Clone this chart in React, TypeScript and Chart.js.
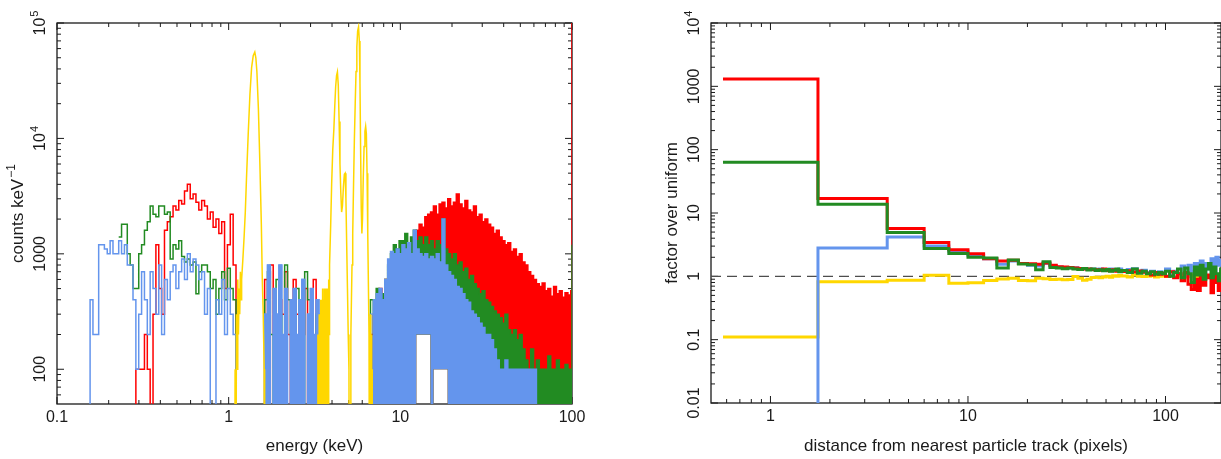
import { useEffect, useRef } from 'react';
import { Chart, registerables } from 'chart.js';

Chart.register(...registerables);

// ---------------- colours / fonts ----------------
const RED = '#ff0000';
const GREEN = '#228b22';
const BLUE = '#6495ed';
const GOLD = '#ffd700';
const INK = '#1a1a1a';
const FONT = '"Liberation Sans", Arial, Helvetica, sans-serif';

// ---------------- left panel: spectra (counts keV^-1) ----------------
// log-spaced bins: edge(i) = 0.15 keV * 10^(i/60)
const GRID_START_KEV = 0.15;
const BINS_PER_DECADE = 60;
// bins 62..82 (1.6 - 3.6 keV) are densely populated for the blue series
const MID_FIRST_BIN = 62;
const MID_LAST_BIN = 82;

// bins 0..99  (0.15 - 6.9 keV)
const blueLow = [
  0, 400, 200, 200, 1200, 1200, 1100, 1000, 1300, 1000,
  1000, 1300, 1000, 1200, 800, 800, 400, 100, 300, 700,
  400, 200, 700, 500, 300, 800, 200, 600, 400, 700,
  800, 500, 700, 900, 600, 1000, 700, 900, 800, 600,
  700, 300, 500, 0, 0, 400, 300, 600, 200, 500,
  300, 200, 0, 0, 0, 0, 0, 0, 0, 0,
  0, 0, 300, 800, 0, 500, 300, 800, 200, 500,
  0, 400, 500, 200, 400, 600, 0, 300, 500, 200,
  400, 300, 0, 0, 0, 0, 0, 0, 0, 0,
  0, 0, 0, 0, 0, 0, 0, 0, 0, 300,
];
const redLow = [
  0, 0, 0, 0, 0, 0, 0, 0, 0, 0,
  0, 0, 0, 0, 0, 0, 0, 100, 100, 100,
  200, 100, 0, 300, 1200, 500, 300, 1600, 1900, 2100,
  2600, 2400, 2900, 2700, 3500, 4000, 3000, 3300, 2800, 2400,
  2900, 2600, 2000, 2300, 1700, 2000, 1500, 1900, 500, 1200,
  2200, 800, 0, 0, 0, 0, 0, 0, 0, 0,
  0, 0, 600, 0, 800, 200, 0, 400, 300, 700,
  200, 0, 600, 300, 0, 200, 500, 0, 300, 600,
  0, 200, 100, 0, 0, 0, 0, 0, 0, 0,
  0, 0, 0, 0, 0, 0, 0, 0, 0, 200,
];
const greenLow = [
  0, 0, 0, 0, 0, 0, 0, 0, 0, 0,
  0, 1400, 1800, 1800, 1000, 800, 500, 500, 1000, 1200,
  1600, 1900, 2600, 2200, 2100, 2600, 2600, 2200, 2300, 900,
  1200, 1100, 1300, 950, 850, 900, 800, 850, 450, 700,
  800, 800, 700, 500, 600, 300, 500, 700, 400, 750,
  500, 400, 0, 0, 0, 0, 0, 0, 0, 0,
  0, 0, 400, 700, 200, 0, 600, 300, 0, 800,
  400, 200, 0, 500, 300, 0, 700, 400, 200, 0,
  300, 0, 200, 0, 0, 0, 0, 0, 0, 0,
  0, 0, 0, 0, 0, 0, 0, 0, 0, 400,
];

// bins 100..169 (6.9 - 100 keV), densely populated: upper envelopes
const redHigh = [
  300, 0, 500, 200, 600, 300, 0, 400, 700, 300,
  500, 800, 400, 600, 1200, 1600, 1800, 1700, 2100, 2200,
  2300, 2600, 2200, 2700, 2800, 2500, 3000, 2600, 2800, 3300,
  2700, 2500, 2900, 2400, 2300, 2600, 2100, 2200, 1900, 2000,
  1800, 1700, 1500, 1600, 1400, 1300, 1200, 1250, 1050, 1100,
  950, 1000, 850, 800, 700, 650, 600, 550, 520, 560,
  480, 500, 430, 520, 450, 480, 420, 460, 440, 480,
];
const greenHigh = [
  400, 500, 350, 450, 600, 800, 1000, 1200, 1100, 1300,
  1300, 1500, 1200, 1400, 1600, 1300, 1400, 1200, 1400, 1200,
  1300, 1100, 1300, 1200, 2000, 1100, 1000, 900, 1000, 800,
  850, 700, 750, 600, 650, 550, 500, 450, 480, 400,
  380, 350, 320, 300, 280, 250, 300, 220, 200, 220,
  180, 200, 150, 120, 100, 150, 100, 120, 100, 100,
  100, 130, 100, 100, 120, 100, 100, 110, 100, 100,
];
const blueHigh = [
  400, 450, 500, 400, 600, 900, 1050, 1000, 1100, 1000,
  1200, 1100, 1250, 1000, 1600, 1100, 1000, 950, 1000, 900,
  950, 900, 1000, 850, 2000, 800, 700, 650, 600, 520,
  500, 450, 400, 380, 320, 300, 280, 250, 230, 200,
  200, 180, 150, 120, 100, 100, 120, 100, 100, 100,
  100, 100, 100, 100, 100, 100, 100, 0, 0, 0,
  0, 0, 0, 0, 0, 0, 0, 0, 0, 0,
];
// lowest level reached by any series in bins 100..169 (0 = some bins were empty)
const denseFloor = [
  0, 0, 0, 0, 0, 0, 0, 0, 0, 0,
  0, 0, 0, 0, 0, 200, 200, 200, 200, 200,
  0, 100, 100, 100, 100, 100, 0, 0, 0, 0,
  0, 0, 0, 0, 0, 0, 0, 0, 0, 0,
  0, 0, 0, 0, 0, 0, 0, 0, 0, 0,
  0, 0, 0, 0, 0, 0, 0, 0, 0, 0,
  0, 0, 0, 0, 0, 0, 0, 0, 0, 0,
];
const redOverflowAt100 = 1e7;
const greenLastAt100 = 1200;

// calibration-source spectrum: [energy keV, counts keV^-1]
const goldSpectrum: [number, number][] = [
  [1.08, 0], [1.09, 100], [1.1, 0], [1.11, 300], [1.12, 100], [1.13, 600], [1.14, 200], [1.15, 500],
  [1.16, 300], [1.17, 700], [1.18, 400], [1.19, 600], [1.21, 900], [1.23, 1400], [1.25, 2300],
  [1.27, 4500], [1.3, 11000], [1.33, 24000], [1.36, 41000], [1.39, 52000], [1.42, 56000],
  [1.44, 50000], [1.46, 38000], [1.49, 18000], [1.52, 6000], [1.55, 1800], [1.57, 600],
  [1.59, 300], [1.61, 100], [1.62, 0],
  [3.3, 0], [3.31, 200], [3.32, 0], [3.34, 100], [3.35, 0], [3.37, 300], [3.38, 0], [3.4, 200],
  [3.41, 0], [3.42, 300], [3.43, 0], [3.44, 400], [3.45, 0], [3.46, 300], [3.47, 0], [3.48, 400],
  [3.49, 100], [3.5, 300], [3.51, 0], [3.52, 500], [3.53, 0], [3.54, 300], [3.55, 0], [3.56, 400],
  [3.57, 100], [3.58, 300], [3.59, 0], [3.6, 500], [3.61, 0], [3.62, 400], [3.63, 0], [3.64, 300],
  [3.65, 100], [3.66, 500], [3.67, 0], [3.68, 300], [3.69, 0], [3.7, 400], [3.71, 0], [3.72, 300],
  [3.73, 100], [3.74, 500], [3.75, 0], [3.76, 400], [3.77, 0], [3.78, 300], [3.79, 0], [3.8, 500],
  [3.81, 100], [3.82, 400], [3.83, 0], [3.84, 600], [3.85, 200], [3.86, 500], [3.87, 300],
  [3.88, 800], [3.93, 1800], [3.98, 4000], [4.04, 8000], [4.1, 12000], [4.15, 19000], [4.2, 28000],
  [4.25, 35000], [4.3, 37700], [4.35, 29000], [4.4, 14000], [4.45, 6000], [4.5, 3400],
  [4.55, 2300], [4.6, 2600], [4.66, 3800], [4.72, 4900], [4.77, 5000], [4.82, 3000],
  [4.87, 1200], [4.92, 500], [4.97, 200], [5.02, 100], [5.05, 0],
  [5.12, 0], [5.15, 200], [5.19, 400], [5.23, 800], [5.28, 1500], [5.34, 4000], [5.4, 10000],
  [5.46, 20000], [5.52, 38000], [5.58, 62000], [5.64, 85000], [5.71, 92500], [5.77, 70000],
  [5.82, 30000], [5.87, 8000], [5.92, 2500], [5.97, 1500], [6.02, 2000], [6.08, 4500],
  [6.15, 8500], [6.22, 11500], [6.28, 12700], [6.34, 11000], [6.4, 5000], [6.46, 1500],
  [6.52, 500], [6.57, 200], [6.61, 100], [6.64, 0], [6.7, 300], [6.72, 0], [6.77, 200],
  [6.79, 0], [6.84, 100], [6.86, 0],
];

const energyTicks = [0.1, 1, 10, 100];
const energyTickLabels = ['0.1', '1', '10', '100'];
const countTicks = [100, 1000, 10000, 100000];
const countTickLabels: [string, string][] = [['100', ''], ['1000', ''], ['10', '4'], ['10', '5']];

// ---------------- right panel: factor over uniform ----------------
const distEdges = [
  0.575, 1.74, 3.9,
  6, 8, 10, 12, 14, 16, 18, 20, 22, 24, 26, 28, 30, 32, 34, 36, 38, 40,
  42, 44, 46, 48, 50, 52, 54, 56, 58, 60,
  64, 68, 72, 76, 80, 84, 88, 92, 96, 100,
  105, 110, 115, 120, 125, 130, 135, 140, 145, 150, 155, 160, 165, 170, 175, 180, 185, 190, 195,
];
const redFactor = [
  1310, 16.9, 5.69, 3.42, 2.63, 2.27, 1.9, 1.75, 1.8, 1.6,
  1.58, 1.55, 1.62, 1.5, 1.42, 1.4, 1.38, 1.36, 1.33, 1.3,
  1.31, 1.28, 1.27, 1.25, 1.3, 1.24, 1.22, 1.27, 1.2, 1.24,
  1.19, 1.22, 1.17, 1.21, 1.16, 1.12, 1.05, 1.15, 1.08, 1.12,
  1.0, 1.18, 0.95, 1.1, 0.85, 1.15, 0.75, 0.62, 0.9, 0.6,
  1.1, 0.72, 0.95, 1.05, 0.55, 1.0, 0.8, 0.6, 0.85,
];
const greenFactor = [
  63.5, 13.8, 4.92, 2.75, 2.3, 2.0, 1.95, 1.36, 1.81, 1.56,
  1.52, 1.27, 1.7, 1.38, 1.36, 1.32, 1.35, 1.3, 1.28, 1.33,
  1.26, 1.3, 1.24, 1.27, 1.22, 1.28, 1.2, 1.25, 1.3, 1.18,
  1.24, 1.15, 1.3, 1.12, 1.2, 1.1, 1.18, 1.08, 1.15, 1.1,
  1.2, 1.0, 1.15, 1.3, 0.95, 1.35, 1.1, 0.8, 1.4, 1.05,
  1.5, 0.9, 1.3, 1.6, 0.95, 1.4, 1.1, 0.85, 1.3,
];
const blueFactor = [
  0, 2.8, 4.16, 3.0, 2.5, 2.15, 1.9, 1.55, 1.75, 1.6,
  1.5, 1.45, 1.6, 1.45, 1.4, 1.38, 1.35, 1.37, 1.3, 1.32,
  1.28, 1.3, 1.26, 1.3, 1.25, 1.28, 1.3, 1.22, 1.26, 1.3,
  1.2, 1.28, 1.32, 1.18, 1.25, 1.15, 1.2, 1.12, 1.18, 1.1,
  1.3, 1.05, 1.2, 1.1, 1.45, 1.0, 1.5, 1.2, 1.6, 1.3,
  1.75, 1.1, 1.6, 1.3, 1.9, 1.2, 2.0, 1.5, 1.8,
];
const goldFactor = [
  0.11, 0.82, 0.87, 1.04, 0.78, 0.79, 0.86, 0.91, 0.93, 0.86,
  0.85, 0.93, 0.92, 0.89, 0.9, 0.88, 0.89, 0.99, 0.93, 0.87,
  0.9, 0.96, 0.97, 0.95, 0.98, 1.0, 0.97, 1.02, 1.0, 1.03,
  1.01, 0.98, 1.05, 1.0, 0.99, 1.0, 1.02, 0.98, 1.0, 1.01,
  0.99, 1.03, 0.97, 1.0, 1.02, 0.98, 1.0, 1.04, 0.96, 1.0,
  1.02, 0.97, 1.0, 1.03, 0.98, 1.0, 1.02, 0.99, 1.0,
];
const uniformLevel = 1;

const distTicks = [1, 10, 100];
const distTickLabels = ['1', '10', '100'];
const factorTicks = [0.01, 0.1, 1, 10, 100, 1000, 10000];
const factorTickLabels: [string, string][] = [
  ['0.01', ''], ['0.1', ''], ['1', ''], ['10', ''], ['100', ''], ['1000', ''], ['10', '4'],
];

// ---------------- helpers ----------------
function binEdge(i: number) {
  return GRID_START_KEV * Math.pow(10, i / BINS_PER_DECADE);
}

// histogram outline; zero bins drop below the log axis
function stepPoints(edges: number[], values: number[], floor: number, rise: boolean, skipLeadingZeros = false) {
  const pts: { x: number; y: number }[] = [];
  const v = (y: number) => (y > 0 ? y : floor);
  let first = 0;
  if (skipLeadingZeros) while (first < values.length && !(values[first] > 0)) first++;
  if (rise) pts.push({ x: edges[first], y: floor });
  for (let k = first; k < values.length; k++) pts.push({ x: edges[k], y: v(values[k]) });
  pts.push({ x: edges[values.length], y: v(values[values.length - 1]) });
  return pts;
}

function minorValues(min: number, max: number) {
  const out: number[] = [];
  for (let d = Math.floor(Math.log10(min)) - 1; d <= Math.ceil(Math.log10(max)); d++) {
    for (let m = 2; m <= 9; m++) {
      const v = m * Math.pow(10, d);
      if (v > min * 1.001 && v < max * 0.999) out.push(v);
    }
  }
  return out;
}

function drawSup(ctx: CanvasRenderingContext2D, base: string, exp: string, cx: number, cy: number, rotated: boolean, size: number) {
  ctx.save();
  ctx.translate(cx, cy);
  if (rotated) ctx.rotate(-Math.PI / 2);
  ctx.textAlign = 'left';
  ctx.textBaseline = 'middle';
  ctx.font = `${size}px ${FONT}`;
  const wb = ctx.measureText(base).width;
  const es = Math.round(size * 0.68);
  ctx.font = `${es}px ${FONT}`;
  const we = exp ? ctx.measureText(exp).width + 1 : 0;
  const x0 = -(wb + we) / 2;
  ctx.font = `${size}px ${FONT}`;
  ctx.fillText(base, x0, 0);
  if (exp) {
    ctx.font = `${es}px ${FONT}`;
    ctx.fillText(exp, x0 + wb + 1, -size * 0.36);
  }
  ctx.restore();
}

type AxisSpec = {
  xMajor: number[];
  xLabels: string[];
  yMajor: number[];
  yLabels: [string, string][];
  xTitle: string;
  yTitle: [string, string];
};

function axesPlugin(spec: AxisSpec) {
  return {
    id: 'axesFrame',
    beforeDatasetsDraw(chart: any) {
      const { ctx, chartArea: a } = chart;
      const xs = chart.scales.x;
      const ys = chart.scales.y;
      ctx.save();
      ctx.strokeStyle = INK;
      ctx.fillStyle = INK;
      ctx.lineWidth = 1.3;
      ctx.strokeRect(a.left, a.top, a.right - a.left, a.bottom - a.top);
      ctx.lineWidth = 1;
      const seg = (x1: number, y1: number, x2: number, y2: number) => {
        ctx.beginPath();
        ctx.moveTo(x1, y1);
        ctx.lineTo(x2, y2);
        ctx.stroke();
      };
      const MAJ = 7;
      const MIN = 4;
      const xTick = (v: number, len: number) => {
        const p = xs.getPixelForValue(v);
        seg(p, a.bottom, p, a.bottom - len);
        seg(p, a.top, p, a.top + len);
      };
      const yTick = (v: number, len: number) => {
        const p = ys.getPixelForValue(v);
        seg(a.left, p, a.left + len, p);
        seg(a.right, p, a.right - len, p);
      };
      spec.xMajor.forEach((v) => xTick(v, MAJ));
      minorValues(xs.min, xs.max).forEach((v) => xTick(v, MIN));
      spec.yMajor.forEach((v) => yTick(v, MAJ));
      minorValues(ys.min, ys.max).forEach((v) => yTick(v, MIN));

      // tick labels
      spec.xMajor.forEach((v, k) => {
        drawSup(ctx, spec.xLabels[k], '', xs.getPixelForValue(v), a.bottom + 14, false, 16);
      });
      spec.yMajor.forEach((v, k) => {
        const [b, e] = spec.yLabels[k];
        drawSup(ctx, b, e, a.left - 16, ys.getPixelForValue(v), true, 16);
      });
      // titles
      drawSup(ctx, spec.xTitle, '', (a.left + a.right) / 2, 446, false, 17);
      drawSup(ctx, spec.yTitle[0], spec.yTitle[1], a.left - 39, (a.top + a.bottom) / 2, true, 17);
      ctx.restore();
    },
  };
}

const commonOptions = {
  animation: false as const,
  responsive: false,
  events: [] as any[],
  plugins: { legend: { display: false }, tooltip: { enabled: false } },
  elements: { point: { radius: 0 }, line: { tension: 0 } },
};

function leftConfig(): any {
  const FLOOR = 1;
  const lowEdges = Array.from({ length: blueLow.length + 1 }, (_, i) => binEdge(i));
  const midEdges = lowEdges.slice(MID_FIRST_BIN, MID_LAST_BIN + 2);
  const blueMid = blueLow.slice(MID_FIRST_BIN, MID_LAST_BIN + 1);
  const highEdges = [...Array.from({ length: redHigh.length }, (_, k) => binEdge(blueLow.length + k)), 100];
  const floorLine = stepPoints(highEdges, denseFloor, FLOOR, true);
  const line = (label: string, color: string, data: any[], stepped: boolean) => ({
    label, data, borderColor: color, backgroundColor: color, borderWidth: 1.5,
    stepped, fill: false, pointRadius: 0,
  });
  const area = (label: string, color: string, data: any[], fill: any, width = 1.5) => ({
    label, data, borderColor: color, backgroundColor: color, borderWidth: width,
    stepped: true, fill, pointRadius: 0,
  });
  const lower = (label: string) => ({
    label, data: floorLine, borderColor: 'rgba(0,0,0,0)', backgroundColor: 'rgba(0,0,0,0)',
    borderWidth: 1, stepped: true, fill: false, pointRadius: 0,
  });
  const datasets = [
    line('gold', GOLD, goldSpectrum.map(([x, y]) => ({ x, y: y > 0 ? y : FLOOR })), false),
    line('blue', BLUE, stepPoints(lowEdges, blueLow, FLOOR, true), true),
    area('blue 1.6-3.6 keV', BLUE, stepPoints(midEdges, blueMid, FLOOR, true), 'start', 1.2),
    area('blue dense', BLUE, stepPoints(highEdges, blueHigh, FLOOR, true), '+1'),
    lower('blue dense floor'),
    line('green', GREEN, stepPoints(lowEdges, greenLow, FLOOR, false, true), true),
    area('green dense', GREEN, [...stepPoints(highEdges, greenHigh, FLOOR, true), { x: 100, y: greenLastAt100 }], '+1'),
    lower('green dense floor'),
    line('red', RED, stepPoints(lowEdges, redLow, FLOOR, true), true),
    area('red dense', RED, [...stepPoints(highEdges, redHigh, FLOOR, true), { x: 100, y: redOverflowAt100 }], '+1'),
    lower('red dense floor'),
  ];
  return {
    type: 'line',
    data: { datasets },
    options: {
      ...commonOptions,
      layout: { padding: { left: 57, top: 23, right: 38, bottom: 55 } },
      scales: {
        x: { type: 'logarithmic', min: 0.1, max: 100, display: false },
        y: { type: 'logarithmic', min: 50, max: 100000, display: false },
      },
    },
    plugins: [
      axesPlugin({
        xMajor: energyTicks, xLabels: energyTickLabels,
        yMajor: countTicks, yLabels: countTickLabels,
        xTitle: 'energy (keV)', yTitle: ['counts keV', '\u22121'],
      }),
    ],
  };
}

function rightConfig(): any {
  const FLOOR = 1e-4;
  const step = (label: string, color: string, values: number[]) => ({
    label, data: stepPoints(distEdges, values, FLOOR, false), borderColor: color,
    borderWidth: 3, stepped: true, fill: false, pointRadius: 0,
  });
  const datasets = [
    step('green', GREEN, greenFactor),
    step('red', RED, redFactor),
    step('blue', BLUE, blueFactor),
    step('gold', GOLD, goldFactor),
    {
      label: 'uniform', data: [{ x: 0.5, y: uniformLevel }, { x: 191, y: uniformLevel }],
      borderColor: '#4d4d4d', borderWidth: 1.4, borderDash: [10, 6], fill: false, pointRadius: 0,
    },
  ];
  return {
    type: 'line',
    data: { datasets },
    options: {
      ...commonOptions,
      layout: { padding: { left: 101, top: 23, right: 0, bottom: 56 } },
      scales: {
        x: { type: 'logarithmic', min: 0.5, max: 191, display: false },
        y: { type: 'logarithmic', min: 0.01, max: 10000, display: false },
      },
    },
    plugins: [
      axesPlugin({
        xMajor: distTicks, xLabels: distTickLabels,
        yMajor: factorTicks, yLabels: factorTickLabels,
        xTitle: 'distance from nearest particle track (pixels)', yTitle: ['factor over uniform', ''],
      }),
    ],
  };
}

export default function App() {
  const leftRef = useRef<HTMLCanvasElement>(null);
  const rightRef = useRef<HTMLCanvasElement>(null);
  useEffect(() => {
    const c1 = new Chart(leftRef.current as HTMLCanvasElement, leftConfig());
    const c2 = new Chart(rightRef.current as HTMLCanvasElement, rightConfig());
    return () => {
      c1.destroy();
      c2.destroy();
    };
  }, []);
  return (
    <div style={{ position: 'fixed', left: 0, top: 0, width: 1221, height: 459, background: '#fff', overflow: 'hidden' }}>
      <canvas ref={leftRef} width={610} height={459} style={{ position: 'absolute', left: 0, top: 0 }} />
      <canvas ref={rightRef} width={611} height={459} style={{ position: 'absolute', left: 610, top: 0 }} />
    </div>
  );
}
